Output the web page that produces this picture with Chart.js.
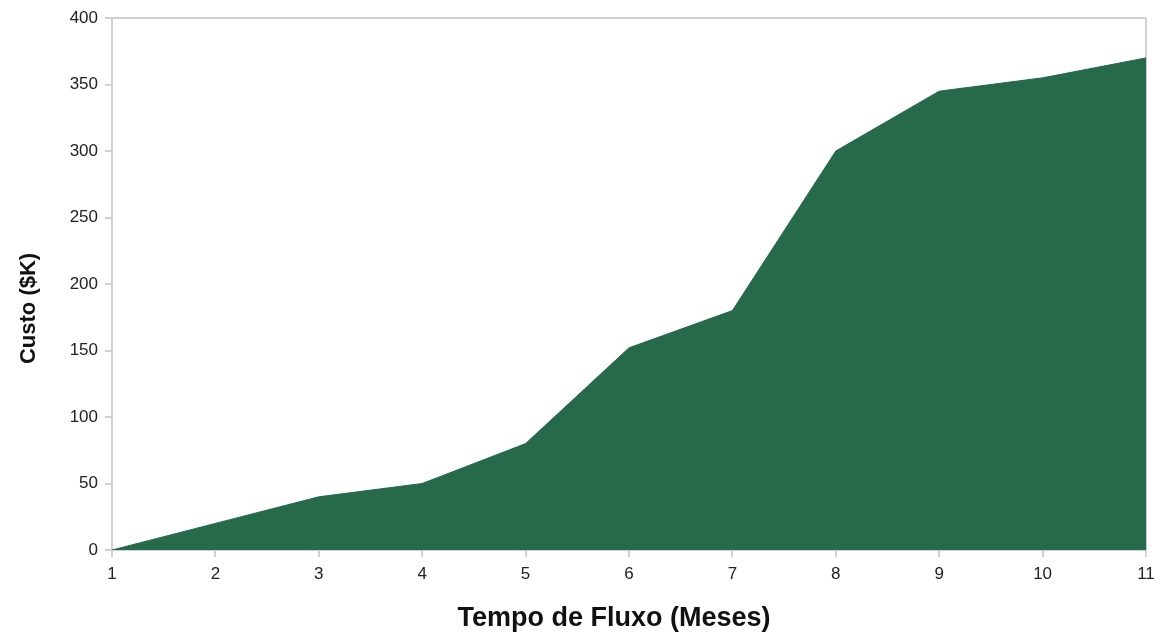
<style>
    body { margin: 0; }
</style>
<script src="https://cdn.jsdelivr.net/npm/chart.js"></script>

<div style="width:1160px;height:635px">
    <canvas id="custo" width="1160" height="635"></canvas>
</div>

<script>
    // months on the x axis and accumulated cost ($K)
    const meses = ['1', '2', '3', '4', '5', '6', '7', '8', '9', '10', '11'];
    const custo = [0, 20, 40, 50, 80, 152, 180, 300, 345, 355, 370];
    const yTicks = [0, 50, 100, 150, 200, 250, 300, 350, 400];

    const lineGray = '#d0d0d0';
    const font = 'Liberation Sans, Arial, sans-serif';

    const config = {
        type: 'line',
        data: {
            labels: meses,
            datasets: [{
                label: 'Custo',
                data: custo,
                fill: 'origin',
                backgroundColor: '#26694b',
                borderColor: '#26694b',
                borderWidth: 1,
                pointRadius: 0,
                tension: 0
            }]
        },
        options: {
            responsive: false,
            animation: false,
            layout: { padding: { top: 18, right: 14, left: 0, bottom: 0 } },
            plugins: { legend: { display: false }, tooltip: { enabled: false } },
            scales: {
                x: {
                    offset: false,
                    grid: {
                        color: ctx => ctx.index === meses.length - 1 ? lineGray : 'rgba(0,0,0,0)',
                        tickColor: lineGray,
                        tickLength: 7,
                        lineWidth: 2
                    },
                    border: { color: lineGray, width: 2 },
                    ticks: { color: '#222', font: { family: font, size: 17 }, padding: 7, maxRotation: 0 },
                    title: {
                        display: true,
                        // trailing spaces nudge the title a bit left, like the original
                        text: 'Tempo de Fluxo (Meses)    ',
                        color: '#111',
                        font: { family: font, size: 27, weight: 'bold' },
                        padding: { top: 9, bottom: 0 }
                    },
                    afterFit: s => { s.height = 85; s.paddingRight = 0; s.paddingLeft = 0; }
                },
                y: {
                    min: 0,
                    max: 400,
                    afterBuildTicks: s => { s.ticks = yTicks.map(v => ({ value: v })); },
                    grid: {
                        color: ctx => ctx.tick && ctx.tick.value === 400 ? lineGray : 'rgba(0,0,0,0)',
                        tickColor: lineGray,
                        tickLength: 7,
                        lineWidth: 2
                    },
                    border: { color: lineGray, width: 2 },
                    ticks: { color: '#222', font: { family: font, size: 17 }, padding: 7 },
                    title: {
                        display: true,
                        text: 'Custo ($K)        ',
                        color: '#111',
                        font: { family: font, size: 22, weight: 'bold' },
                        padding: { top: 16, bottom: 0 }
                    },
                    afterFit: s => { s.width = 112; s.paddingTop = 0; s.paddingBottom = 0; }
                }
            }
        }
    };

    const chart = new Chart(document.getElementById('custo'), config);
</script>
